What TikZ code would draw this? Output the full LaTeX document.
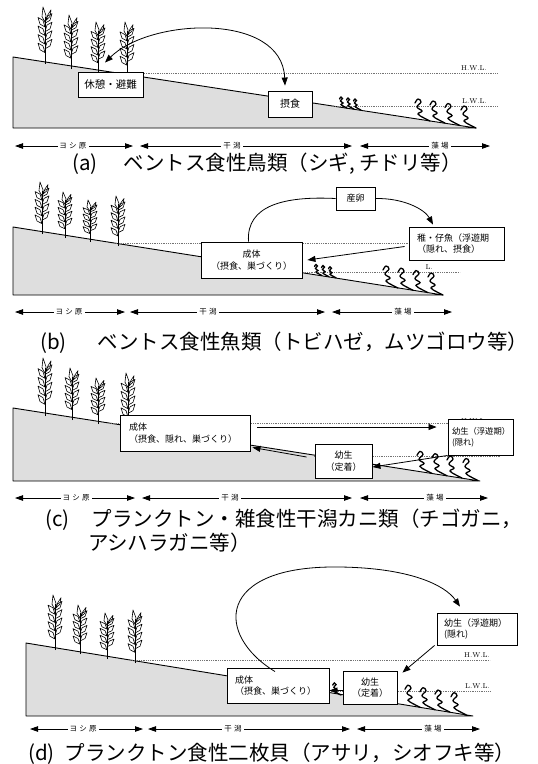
\documentclass[tikz,border=0pt]{standalone}
\usepackage{fontspec}
\newfontfamily\jp{Noto Sans CJK JP}
\newfontfamily\jpsp[LetterSpace=30]{Noto Sans CJK JP}
\usetikzlibrary{arrows.meta,calc}

\tikzset{
  ground/.style={fill=black!13, draw=black, line width=0.9pt, line join=round},
  wl/.style={black!55, line width=0.7pt, dash pattern=on 1pt off 0.8pt},
  wllabel/.style={font=\fontsize{7}{7}\selectfont, inner sep=0pt, anchor=south east},
  box/.style={draw, fill=white, line width=0.9pt, inner sep=0pt, align=center,
    font=\jp\fontsize{9}{11.5}\selectfont},
  boxsize/.style 2 args={minimum width=#1pt, minimum height=#2pt},
  link/.style={line width=0.8pt},
  tip/.style={-{Triangle[length=8pt,width=6pt]}},
  bothtips/.style={{Triangle[length=8pt,width=6pt]}-{Triangle[length=8pt,width=6pt]}},
  zone/.style={line width=0.8pt, {Triangle[length=8pt,width=5.5pt]}-{Triangle[length=8pt,width=5.5pt]}},
  zonelabel/.style={fill=white, inner xsep=2pt, inner ysep=1.5pt, font=\jpsp\fontsize{7.5}{8}\selectfont},
  caption/.style={anchor=base west, inner sep=0pt, font=\jp\fontsize{20.5}{22}\selectfont},
  reedline/.style={line width=0.6pt, line join=round},
  weed/.style={line width=1.3pt, line cap=round},
}

% a reed: base point (#1,#2), height #3
\newcommand\reed[3]{%
  \begin{scope}[shift={(#1,#2)}, yscale=#3/60]
    \draw[reedline] (0,0) -- (0,-50);
    \foreach \k in {0,...,3}{
      \pgfmathsetmacro\yy{-12-9*\k}
      \draw[reedline] (0,\yy) -- (-5,\yy-3) -- (-7,\yy-10) -- (-2,\yy-7) -- cycle;
      \draw[reedline] (0,\yy-4) -- (5,\yy-7) -- (7,\yy-14) -- (2,\yy-11) -- cycle;
    }
    \draw[reedline] (0,-44) -- (-3,-50) -- (-2,-60) -- (1,-51) -- cycle;
    \draw[reedline] (1,-46) -- (5,-50) -- (6,-57) -- (3,-52) -- cycle;
  \end{scope}}

% a seaweed frond: base point (#1,#2), scale #3
\newcommand\weed[3]{%
  \begin{scope}[shift={(#1,#2)}, scale=#3]
    \draw[weed] plot[smooth, tension=0.7] coordinates
      {(0,0) (-6,-3) (-12,-7) (-8,-10) (-13,-14) (-9,-19) (-12,-22) (-15,-18)};
  \end{scope}}

% zone arrow with its label: name, y, x1, x2, label x, text
\newcommand\zonearrow[6]{%
  \coordinate (#1-l) at (#3,#2);
  \coordinate (#1-r) at (#4,#2);
  \draw[zone] (#1-l) -- (#1-r);
  \node[zonelabel] (#1) at (#5,#2) {#6};}

\begin{document}
\begin{tikzpicture}[x=1pt, y=-1pt]
\useasboundingbox[fill=white] (0,0) rectangle (538,764);

%% ---------------- (a) shorebirds ----------------
\draw[ground] (13,57) -- (476,128) -- (13,128) -- cycle;
\draw[wl] (117,73) -- (498,73);
\node[wllabel] (a-hwl) at (487,71) {H.W.L.};
\draw[wl] (333,106) -- (498,106);
\node[wllabel] (a-lwl) at (487,104) {L.W.L.};
\reed{45}{64}{57}
\reed{71}{69}{54}
\reed{98}{73}{51}
\reed{127}{76}{54}
\weed{347}{108}{0.5}
\weed{354}{109}{0.5}
\weed{361}{110}{0.5}
\weed{430}{121}{1}
\weed{445}{123}{1}
\weed{460}{125.5}{1}
\weed{476}{128}{1}
\node[box, boxsize={65}{25}, font=\jp\fontsize{10.5}{12}\selectfont] (a-rest) at (110.5,84.5) {休憩・避難};
\node[box, boxsize={44}{26}, font=\jp\fontsize{10}{12}\selectfont] (a-feed) at (290,104) {摂食};
\draw[link, bothtips] ([shift={(-5.5pt,9pt)}]a-rest.north) .. controls (150,18) and (282,12) .. ([shift={(-5pt,5pt)}]a-feed.north);
\zonearrow{a-yoshi}{146}{15}{133}{73}{ヨシ原}
\zonearrow{a-higata}{146}{140}{352}{232}{干潟}
\zonearrow{a-moba}{146}{360}{490}{440}{藻場}
\node[caption] (a-cap) at (72,170) {(a)\hspace{26pt}ベントス食性鳥類（シギ, チドリ等）};

%% ---------------- (b) benthos-feeding fish ----------------
\draw[ground] (13,227) -- (443,295) -- (13,295) -- cycle;
\draw[wl] (114,243) -- (460,243);
\draw[wl] (298,272) -- (460,272);
\node[wllabel] (b-lwl) at (433,270) {L.};
\reed{42}{234}{52}
\reed{65}{238}{46}
\reed{90}{242}{42}
\reed{118}{246}{50}
\weed{322}{275.5}{0.5}
\weed{329}{276.6}{0.5}
\weed{336}{277.7}{0.5}
\weed{398}{288}{1}
\weed{413}{290.2}{1}
\weed{428}{292.6}{1}
\weed{443}{295}{1}
\node[box, boxsize={101}{36}] (b-adult) at (251.5,260) {成体\\（摂食、巣づくり）};
\node[box, boxsize={39}{23}] (b-spawn) at (355.5,198.5) {産卵};
\node[box, boxsize={95}{33}, align=left, text width=79pt] (b-larva) at (456.5,243.5) {稚・仔魚（浮遊期\\（隠れ、摂食）};
\draw[link] ([xshift=-3pt]b-adult.north) .. controls (246,205) and (285,196) .. (b-spawn.west);
\draw[link, tip] (b-spawn.east) .. controls (405,198) and (425,210) .. ([shift={(-23.5pt,2pt)}]b-larva.north);
\draw[link, tip] ([shift={(-4pt,-3pt)}]b-larva.west) -- ([xshift=5pt]b-adult.east);
\zonearrow{b-yoshi}{312}{15}{125}{69}{ヨシ原}
\zonearrow{b-higata}{312}{130}{325}{208}{干潟}
\zonearrow{b-moba}{312}{332}{452}{403}{藻場}
\node[caption] (b-cap) at (40,349) {(b)\hspace{31pt}ベントス食性魚類（トビハゼ，ムツゴロウ等）};

%% ---------------- (c) tidal-flat crabs ----------------
\draw[ground] (13,408) -- (480,481) -- (13,481) -- cycle;
\draw[wl] (109,423) -- (500,423);
\node[wllabel] (c-hwl) at (487,424) {H.W.L.};
\draw[wl] (314,456) -- (500,456);
\reed{45}{416}{58}
\reed{72}{420}{52}
\reed{98}{424}{46}
\reed{128}{428}{55}
\weed{432}{473.4}{1}
\weed{447}{475.7}{1}
\weed{462}{478}{1}
\weed{478}{480.5}{1}
\node[box, boxsize={130}{36}, align=left, text width=112pt] (c-adult) at (185,433) {成体\\（摂食、隠れ、巣づくり）};
\node[box, boxsize={57}{34}] (c-settle) at (343.5,461) {幼生\\（定着）};
\node[box, boxsize={65}{36}, align=left, text width=57pt, font=\jp\fontsize{8.3}{11}\selectfont] (c-plank) at (480.5,437) {幼生（浮遊期）\\(隠れ)};
\draw[link, tip] ([shift={(7pt,6pt)}]c-adult.east) -- ([shift={(-11pt,10pt)}]c-plank.west);
\draw[link, tip] ([shift={(-8pt,4pt)}]c-settle.west) -- ([shift={(2pt,4pt)}]c-adult.south east);
\draw[link, tip] (c-plank.south west) -- ([yshift=-6pt]c-settle.east);
\zonearrow{c-yoshi}{498}{15}{135}{76}{ヨシ原}
\zonearrow{c-higata}{498}{142}{352}{230}{干潟}
\zonearrow{c-moba}{498}{360}{488}{435}{藻場}
\node[caption] (c-cap) at (45,526) {(c)\hspace{22pt}プランクトン・雑食性干潟カニ類（チゴガニ，};
\node[caption] (c-cap2) at (88,550) {アシハラガニ等）};

%% ---------------- (d) plankton-feeding bivalves ----------------
\draw[ground] (26,643) -- (473,716) -- (26,716) -- cycle;
\draw[wl] (130,660) -- (490,660);
\node[wllabel] (d-hwl) at (490,658) {H.W.L.};
\draw[wl] (324,691) -- (490,691);
\node[wllabel] (d-lwl) at (490,689) {L.W.L.};
\reed{55}{650}{55}
\reed{80}{654}{49}
\reed{107}{659}{46}
\reed{135}{663}{53}
\weed{341}{695}{0.55}
\weed{420}{707.2}{1}
\weed{435}{709.7}{1}
\weed{450}{712.1}{1}
\weed{466}{714.7}{1}
\node[box, boxsize={102}{35}, align=left, text width=86pt] (d-adult) at (278,685.5) {成体\\（摂食、巣づくり）};
\node[box, boxsize={54}{33}] (d-settle) at (370,687.5) {幼生\\（定着）};
\node[box, boxsize={80}{32}, align=left, text width=66pt] (d-plank) at (477,629) {幼生（浮遊期）\\(隠れ)};
\draw[link, tip] ([shift={(-3pt,-4pt)}]d-adult.north) .. controls (215,635) and (215,565) .. (340,567) .. controls (410,568) and (445,585) .. ([shift={(-17pt,6pt)}]d-plank.north);
\draw[link, tip] ([xshift=-2pt]d-plank.south west) -- ([shift={(5pt,-2pt)}]d-settle.north east);
\draw[link, tip] ([yshift=-3pt]d-settle.west) -- ([yshift=-5pt]d-adult.east);
\zonearrow{d-yoshi}{729}{30}{143}{83}{ヨシ原}
\zonearrow{d-higata}{729}{148}{350}{233}{干潟}
\zonearrow{d-moba}{729}{357}{480}{433}{藻場}
\node[caption] (d-cap) at (28,760) {(d)\hspace{10pt}プランクトン食性二枚貝（アサリ，シオフキ等）};
\end{tikzpicture}
\end{document}
